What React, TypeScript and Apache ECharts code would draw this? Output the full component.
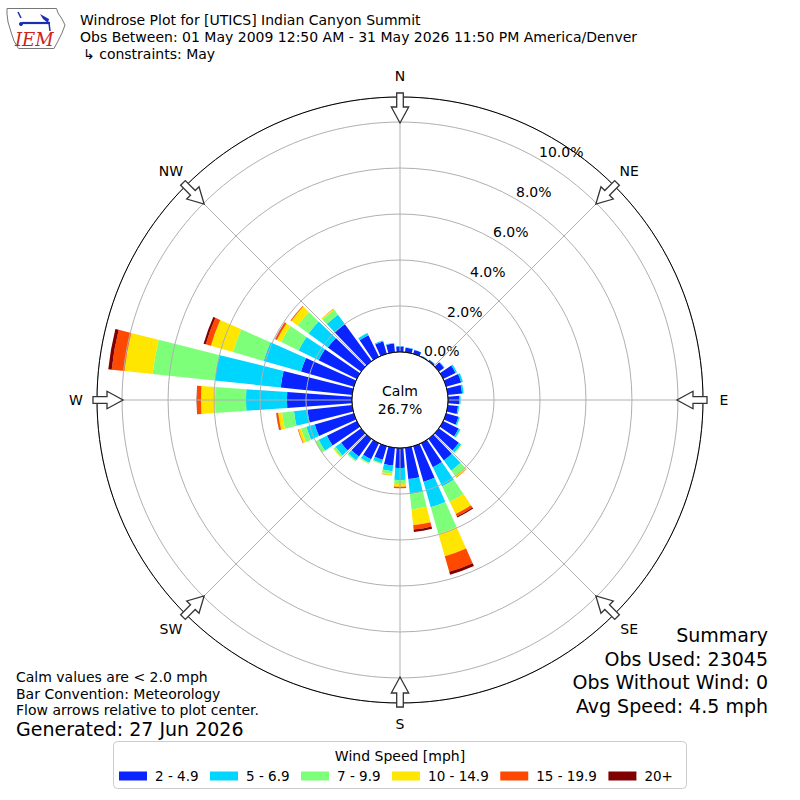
import React, { useEffect, useRef } from "react";
import * as echarts from "echarts";

// ---------- data ----------
const directions = [
  "0", "10", "20", "30", "40", "50", "60", "70", "80", "90", "100", "110",
  "120", "130", "140", "150", "160", "170", "180", "190", "200", "210", "220", "230",
  "240", "250", "260", "270", "280", "290", "300", "310", "320", "330", "340", "350",
];
const speedBins = ["2 - 4.9", "5 - 6.9", "7 - 9.9", "10 - 14.9", "15 - 19.9", "20+"];
const binColors = ["#0a24ff", "#00d5ff", "#7dff7a", "#ffe600", "#ff4800", "#800000"];

// percent of observations per direction (0..350 step 10)
const bin2to5 = [
  0.24, 0.2, 0.17, 0.04, 0.08, 0.28, 0.6, 0.68, 0.63, 0.5, 0.45, 0.56,
  0.75, 1.08, 1.16, 1.17, 1.61, 1.37, 0.87, 0.78, 0.62, 0.78, 0.95, 1.08,
  1.45, 1.77, 1.96, 2.83, 3.13, 2.39, 1.85, 1.79, 2.0, 1.05, 0.56, 0.38,
];
const bin5to7 = [
  0.02, 0.02, 0.02, 0.01, 0.01, 0.03, 0.07, 0.08, 0.07, 0.05, 0.05, 0.06,
  0.08, 0.12, 0.55, 0.93, 1.16, 0.66, 0.52, 0.25, 0.15, 0.17, 0.2, 0.3,
  0.4, 0.38, 0.59, 1.78, 2.89, 1.69, 0.97, 1.04, 0.5, 0.1, 0.04, 0.03,
];
const bin7to10 = [
  0, 0, 0, 0, 0, 0, 0, 0.01, 0.01, 0, 0, 0,
  0.02, 0.03, 0.28, 0.75, 1.2, 0.67, 0.18, 0.12, 0.04, 0.05, 0.05, 0.1,
  0.15, 0.24, 0.52, 1.35, 2.71, 1.39, 0.84, 0.59, 0.27, 0.02, 0, 0,
];
const bin10to15 = [
  0, 0, 0, 0, 0, 0, 0, 0, 0, 0, 0, 0,
  0, 0.02, 0.08, 0.58, 1.01, 0.69, 0.11, 0.07, 0.01, 0.01, 0.01, 0.03,
  0.02, 0.12, 0.17, 0.61, 1.23, 1.0, 0.21, 0.34, 0.05, 0, 0, 0,
];
const bin15to20 = [
  0, 0, 0, 0, 0, 0, 0, 0, 0, 0, 0, 0,
  0, 0, 0.02, 0.12, 0.7, 0.19, 0.07, 0.01, 0, 0, 0, 0,
  0, 0.03, 0.08, 0.17, 0.56, 0.23, 0.08, 0.04, 0.01, 0, 0, 0,
];
const bin20plus = [
  0, 0, 0, 0, 0, 0, 0, 0, 0, 0, 0, 0,
  0, 0, 0, 0.05, 0.14, 0.1, 0, 0, 0, 0, 0, 0,
  0, 0, 0.01, 0.02, 0.15, 0.1, 0.01, 0, 0, 0, 0, 0,
];
const binData = [bin2to5, bin5to7, bin7to10, bin10to15, bin15to20, bin20plus];

const radialTicks = [0, 2, 4, 6, 8, 10];
const radialMax = 11.09;
const compassLabels = ["N", "NE", "E", "SE", "S", "SW", "W", "NW"];
const calmText = ["Calm", "26.7%"];
const titleLines = [
  "Windrose Plot for [UTICS] Indian Canyon Summit",
  "Obs Between: 01 May 2009 12:50 AM - 31 May 2026 11:50 PM America/Denver",
  "\u21b3 constraints: May",
];
const summaryLines = ["Summary", "Obs Used: 23045", "Obs Without Wind: 0", "Avg Speed: 4.5 mph"];
const noteLines = ["Calm values are < 2.0 mph", "Bar Convention: Meteorology", "Flow arrows relative to plot center."];
const generatedText = "Generated: 27 Jun 2026";
const legendTitle = "Wind Speed [mph]";

// ---------- layout ----------
const FONT = "DejaVu Sans";
const CX = 400;
const CY = 400;
const R0 = 48;
const R1 = 303;

function arrow(deg: number) {
  const pts = [
    [-3.3, -307], [3.3, -307], [3.3, -293], [8.7, -293], [0, -277], [-8.7, -293], [-3.3, -293],
  ];
  return {
    type: "group",
    x: CX,
    y: CY,
    rotation: (-deg * Math.PI) / 180,
    z: 20,
    children: [
      {
        type: "polygon",
        shape: { points: pts },
        style: { fill: "#ffffff", stroke: "#333333", lineWidth: 1.3 },
        z: 20,
      },
    ],
  };
}

function txt(x: number, y: number, text: string, size: number, align = "left", extra: any = {}) {
  return {
    type: "text",
    x,
    y,
    z: 30,
    style: {
      text,
      fontSize: size,
      fontFamily: FONT,
      fill: "#000000",
      align,
      verticalAlign: "middle",
      textAlign: align,
      textVerticalAlign: "middle",
      ...extra,
    },
  };
}

export default function App() {
  const ref = useRef<HTMLDivElement>(null);

  useEffect(() => {
    if (!ref.current) return;
    document.body.style.margin = "0";
    document.documentElement.style.margin = "0";
    const chart = echarts.init(ref.current, undefined, { renderer: "svg" });

    const graphics: any[] = [];
    // legend box
    graphics.push({
      type: "rect",
      shape: { x: 113.5, y: 741.5, width: 573, height: 47, r: 4 },
      style: { fill: "#ffffff", stroke: "#cccccc", lineWidth: 1 },
      z: 0,
    });
    graphics.push(txt(400, 756, legendTitle, 14, "center"));
    // calm circle
    graphics.push({
      type: "circle",
      shape: { cx: CX, cy: CY, r: R0 },
      style: { fill: "#ffffff", stroke: "#000000", lineWidth: 1 },
      z: 25,
    });
    graphics.push(txt(CX, 391, calmText[0], 14, "center"));
    graphics.push(txt(CX, 409, calmText[1], 14, "center"));
    // arrows and compass labels
    compassLabels.forEach((lab, k) => {
      const deg = k * 45;
      graphics.push(arrow(deg));
      const rad = (deg * Math.PI) / 180;
      graphics.push(txt(CX + 324 * Math.sin(rad), CY - 324 * Math.cos(rad), lab, 14, "center"));
    });
    // titles
    graphics.push(txt(80, 20, titleLines[0], 14));
    graphics.push(txt(80, 37, titleLines[1], 14));
    graphics.push(txt(83, 54, titleLines[2], 14));
    // summary
    summaryLines.forEach((s, i) => graphics.push(txt(768, 635 + i * 23.7, s, 19, "right")));
    noteLines.forEach((s, i) => graphics.push(txt(16, 677 + i * 16.5, s, 14)));
    graphics.push(txt(16, 729, generatedText, 19));
    // logo
    graphics.push({
      type: "polygon",
      shape: {
        points: [
          [7, 8.5], [56.5, 8.5], [58, 13], [62, 19], [65, 25], [62, 33], [58, 41], [54, 48.5],
          [18.5, 48.5], [14, 41], [11, 32], [8, 22], [7, 14],
        ],
      },
      style: { fill: "none", stroke: "#777777", lineWidth: 1 },
      z: 30,
    });
    graphics.push({
      type: "line",
      shape: { x1: 22, y1: 23, x2: 50, y2: 23 },
      style: { stroke: "#1a2fb0", lineWidth: 2.2 },
      z: 30,
    });
    graphics.push({
      type: "polygon",
      shape: { points: [[40, 14], [49, 19], [48, 23], [43, 19]] },
      style: { fill: "#1a2fb0" },
      z: 30,
    });
    graphics.push({
      type: "line",
      shape: { x1: 49, y1: 23, x2: 50, y2: 31 },
      style: { stroke: "#1a2fb0", lineWidth: 1.5 },
      z: 30,
    });
    graphics.push({
      type: "line",
      shape: { x1: 18, y1: 12, x2: 21, y2: 18 },
      style: { stroke: "#1a2fb0", lineWidth: 1.5 },
      z: 30,
    });
    graphics.push({
      type: "circle",
      shape: { cx: 21, cy: 24, r: 2 },
      style: { fill: "#1a2fb0" },
      z: 30,
    });
    graphics.push(
      txt(15, 39, "IEM", 18, "left", { fontFamily: "DejaVu Serif", fontStyle: "italic", fill: "#cc2222" })
    );

    const option: any = {
      animation: false,
      tooltip: { show: false },
      polar: [
        { center: [CX, CY], radius: [R0, R1] },
        { center: [CX, CY], radius: [R0, R1] },
        { center: [CX, CY], radius: [R0, R1] },
      ],
      angleAxis: [
        {
          polarIndex: 0,
          type: "category",
          data: directions,
          startAngle: 95,
          clockwise: true,
          boundaryGap: true,
          axisLine: { show: false },
          axisTick: { show: false },
          axisLabel: { show: false },
          splitLine: { show: false },
          z: 1,
        },
        {
          polarIndex: 1,
          type: "value",
          min: 0,
          max: 360,
          interval: 45,
          startAngle: 90,
          clockwise: true,
          axisLine: { show: true, lineStyle: { color: "#000000", width: 1 } },
          axisTick: { show: false },
          axisLabel: { show: false },
          splitLine: { show: true, lineStyle: { color: "#b0b0b0", width: 1 } },
          z: 6,
        },
        {
          polarIndex: 2,
          type: "value",
          min: 0,
          max: 360,
          startAngle: 60,
          clockwise: true,
          show: false,
        },
      ],
      radiusAxis: [
        { polarIndex: 0, type: "value", min: 0, max: radialMax, show: false },
        {
          polarIndex: 1,
          type: "value",
          min: 0,
          max: radialMax,
          interval: 2,
          axisLine: { show: false },
          axisTick: { show: false },
          axisLabel: { show: false },
          splitLine: { show: true, showMaxLine: false, lineStyle: { color: "#b0b0b0", width: 1 } },
          z: 5,
        },
        {
          polarIndex: 2,
          type: "value",
          min: 0,
          max: radialMax,
          interval: 2,
          axisLine: { show: false },
          axisTick: { show: false },
          splitLine: { show: false },
          axisLabel: {
            show: true,
            showMaxLabel: false,
            margin: 0,
            align: "left",
            verticalAlign: "bottom",
            fontSize: 14,
            fontFamily: FONT,
            color: "#000000",
            formatter: (v: number) => {
              const r = Math.round(v * 1000) / 1000;
              return radialTicks.indexOf(r) >= 0 ? r.toFixed(1) + "%" : "";
            },
          },
          z: 5,
        },
      ],
      legend: {
        data: speedBins,
        left: 119,
        top: 769,
        orient: "horizontal",
        icon: "rect",
        itemWidth: 28,
        itemHeight: 9,
        itemGap: 11.5,
        padding: 0,
        selectedMode: false,
        textStyle: { fontSize: 13.5, fontFamily: FONT, color: "#000000", padding: [0, 0, 0, 3] },
      },
      series: speedBins.map((name, i) => ({
        type: "bar",
        name,
        coordinateSystem: "polar",
        polarIndex: 0,
        stack: "wind",
        barCategoryGap: "20%",
        data: binData[i],
        itemStyle: { color: binColors[i] },
        emphasis: { disabled: true },
        silent: true,
        z: 2,
      })),
      graphic: { elements: graphics },
    };

    chart.setOption(option);
    return () => chart.dispose();
  }, []);

  return <div ref={ref} style={{ width: 800, height: 800, background: "#ffffff" }} />;
}
